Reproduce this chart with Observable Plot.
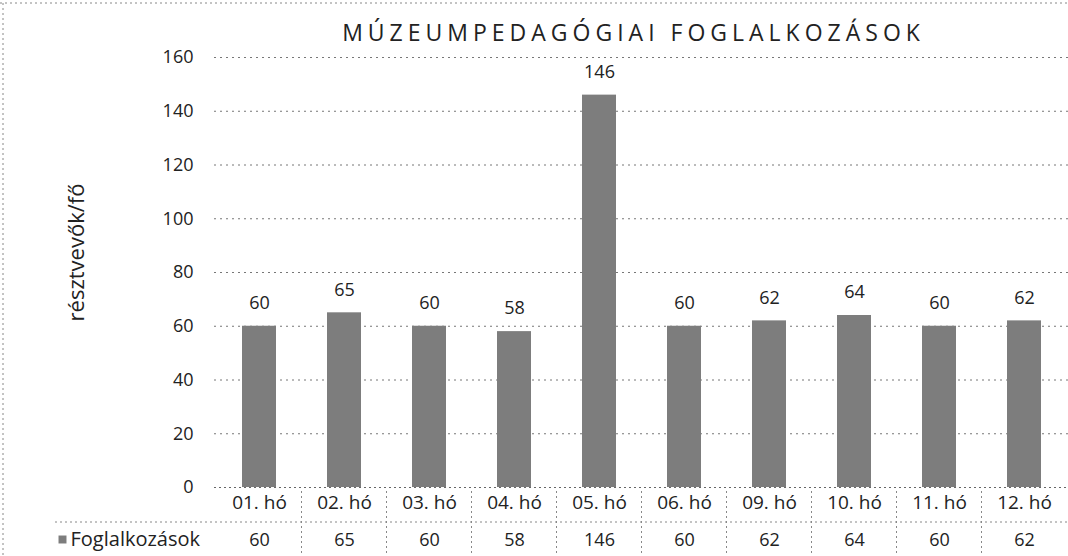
<!DOCTYPE html>
<html><head><meta charset="utf-8">
<script src="https://cdn.jsdelivr.net/npm/d3@7"></script>
<script src="https://cdn.jsdelivr.net/npm/@observablehq/plot@0.6"></script>
<style>
body{margin:0;background:#fff;}
#chart{width:1068px;height:556px;overflow:hidden;}
</style></head><body><div id="chart"></div>
<script>
const months = ["01. hó","02. hó","03. hó","04. hó","05. hó","06. hó","09. hó","10. hó","11. hó","12. hó"];
const values = [60,65,60,58,146,60,62,64,60,62];
const yTicks = [0,20,40,60,80,100,120,140,160];
const title = "MÚZEUMPEDAGÓGIAI FOGLALKOZÁSOK";
const yLabel = "résztvevők/fő";
const seriesName = "Foglalkozások";
const data = months.map((m,i)=>({month:m, value:values[i]}));

const barFill = "#7d7d7d";
const plot = Plot.plot({
  width:1068, height:556, marginTop:57, marginBottom:69, marginLeft:214, marginRight:0,
  style:{fontFamily:"'Open Sans', sans-serif", fontSize:"18px", color:"#222", background:"#fff", overflow:"visible"},
  x:{domain:months, paddingInner:0.6, paddingOuter:0.3, label:null},
  y:{domain:[0,160], label:null},
  marks:[
    Plot.gridY(yTicks.filter(t=>t>0), {stroke:"#777", strokeOpacity:1, strokeDasharray:"2,4", strokeWidth:1}),
    Plot.barY(data,{x:"month",y:"value",fill:barFill}),
    Plot.ruleY([0], {stroke:"#666", strokeDasharray:"2,3"}),
    Plot.axisY({ticks:yTicks, tickSize:0, tickPadding:21, fontSize:18, label:null}),
    Plot.axisX({tickSize:0, tickPadding:8, fontSize:19, label:null}),
    Plot.text(data,{x:"month",y:"value",text:d=>String(d.value),dy:-23, fontSize:18, fill:"#222", lineAnchor:"middle"}),
    Plot.text(data,{x:"month",text:d=>String(d.value), frameAnchor:"bottom", dy:53, fontSize:18, fill:"#222", lineAnchor:"middle", textAnchor:"middle"}),
    Plot.dot([seriesName], {frameAnchor:"bottom-left", dx:-152, dy:52, symbol:"square", r:4.5, fill:barFill}),
    Plot.text([seriesName], {frameAnchor:"bottom-left", text:d=>d, textAnchor:"start", lineAnchor:"middle", dx:-144, dy:52, fontSize:20, fill:"#222"}),
    Plot.text([yLabel], {frameAnchor:"left", text:d=>d, rotate:-90, textAnchor:"middle", lineAnchor:"middle", dx:-138, dy:-20, fontSize:22, fill:"#222"}),
    Plot.text([title], {frameAnchor:"top", text:d=>d, textAnchor:"middle", lineAnchor:"middle", dx:-8, dy:-24, fontSize:23, fill:"#222"})
  ]
});
d3.select(plot).selectAll("text").filter(function(){ return this.textContent === title; })
  .style("letter-spacing","5px");

// data-table rules drawn from the plot's own x scale
const xs = plot.scale("x");
const svg = d3.select(plot);
const g = svg.append("g").attr("stroke","#888").attr("stroke-dasharray","2,3").attr("fill","none");
const half = (xs.step - xs.bandwidth)/2;
const bottom = 556 - 69;
months.slice(1).forEach(m=>{
  const bx = xs.apply(m) - half;
  g.append("line").attr("x1",bx).attr("x2",bx).attr("y1",bottom+4).attr("y2",556);
});
g.append("line").attr("x1",55).attr("x2",1068).attr("y1",bottom+35).attr("y2",bottom+35);
g.append("line").attr("x1",0).attr("x2",1068).attr("y1",3).attr("y2",3);
g.append("line").attr("x1",3).attr("x2",3).attr("y1",3).attr("y2",556);
document.getElementById("chart").appendChild(plot);
</script></body></html>
